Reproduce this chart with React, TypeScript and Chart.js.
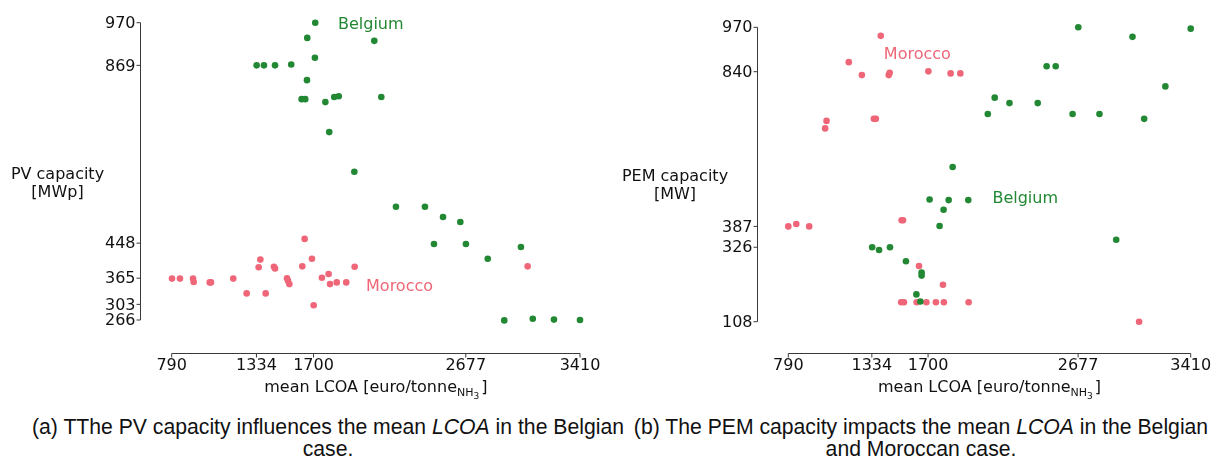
import React, { useEffect, useRef } from "react";
import { Chart, registerables } from "chart.js";

Chart.register(...registerables);

const GREEN = "#228833";
const PINK = "#EE6677";
const FONT = "'DejaVu Sans', sans-serif";

const xTickValues = [790, 1334, 1700, 2677, 3410];
const pvTickValues = [266, 303, 365, 448, 869, 970];
const pemTickValues = [108, 326, 387, 840, 970];

const pvBelgium: [number, number][] = [
  [1711, 970], [1660, 934], [2090, 927], [1709, 887], [1335, 869], [1382, 869], [1453, 869],
  [1557, 871], [1658, 834], [1624, 789], [1647, 789], [1776, 782], [1833, 794], [1862, 796],
  [2135, 794], [1801, 711], [1962, 617], [2229, 534], [2415, 534], [2531, 510], [2642, 498],
  [2473, 446], [2678, 446], [2818, 411], [3031, 439], [2924, 265], [3107, 269], [3243, 267],
  [3410, 266],
];

const pvMorocco: [number, number][] = [
  [792, 364], [843, 364], [927, 364], [931, 356], [1034, 355], [1042, 355], [1185, 364],
  [1271, 329], [1348, 391], [1359, 409], [1393, 329], [1446, 392], [1453, 388], [1530, 365],
  [1536, 359], [1545, 351], [1628, 393], [1643, 458], [1690, 411], [1701, 301], [1754, 366],
  [1797, 375], [1806, 351], [1849, 355], [1910, 355], [1964, 392], [3074, 393],
];

const pemMorocco: [number, number][] = [
  [1392, 945], [1184, 868], [1269, 830], [1444, 830], [1450, 837], [1702, 841], [1847, 835],
  [1910, 835], [1039, 696], [1030, 674], [1347, 702], [1360, 702], [790, 387], [842, 394],
  [926, 387], [1528, 405], [1537, 405], [1641, 271], [1797, 216], [1525, 165], [1543, 165],
  [1626, 165], [1689, 165], [1751, 165], [1803, 165], [1964, 165], [3074, 108],
];

const pemBelgium: [number, number][] = [
  [1860, 561], [1710, 466], [1834, 464], [1962, 464], [1801, 436], [1775, 388], [1336, 326],
  [1381, 318], [1452, 326], [1556, 285], [1658, 252], [1658, 243], [1624, 188], [1650, 167],
  [2089, 716], [2678, 970], [3031, 942], [3410, 966], [2472, 856], [2531, 856], [3245, 797],
  [2134, 764], [2230, 748], [2414, 748], [2641, 716], [2816, 716], [3107, 702], [2925, 348],
];

const pvYLabel = ["PV capacity", "[MWp]"];
const pemYLabel = ["PEM capacity", "[MW]"];
const xLabelMain = "mean LCOA [euro/tonne";

type Note = { text: string; x: number; y: number; color: string };

type Panel = {
  belgium: [number, number][];
  morocco: [number, number][];
  yTicks: number[];
  yLabel: string[];
  padding: { left: number; right: number; top: number; bottom: number };
  ySpineX: number;
  xSpineY: number;
  yLabelX: number;
  yLabelY: number[];
  notes: Note[];
};

const panelA: Panel = {
  belgium: pvBelgium,
  morocco: pvMorocco,
  yTicks: pvTickValues,
  yLabel: pvYLabel,
  padding: { left: 171.7, right: 26, top: 22.7, bottom: 80 },
  ySpineX: 140.3,
  xSpineY: 352.7,
  yLabelX: 57.5,
  yLabelY: [175, 193],
  notes: [
    { text: "Belgium", x: 1857, y: 966, color: GREEN },
    { text: "Morocco", x: 2037, y: 345, color: PINK },
  ],
};

const panelB: Panel = {
  belgium: pemBelgium,
  morocco: pemMorocco,
  yTicks: pemTickValues,
  yLabel: pemYLabel,
  padding: { left: 182.3, right: 21.3, top: 27.3, bottom: 78.3 },
  ySpineX: 150.7,
  xSpineY: 353,
  yLabelX: 69,
  yLabelY: [177, 195],
  notes: [
    { text: "Morocco", x: 1412, y: 889, color: PINK },
    { text: "Belgium", x: 2119, y: 467, color: GREEN },
  ],
};

const axesPlugin = {
  id: "customAxes",
  afterDatasetsDraw(chart: any, _args: any, opts: any) {
    const p: Panel = opts.panel;
    if (!p) return;
    const ctx: CanvasRenderingContext2D = chart.ctx;
    const xs = chart.scales.x;
    const ys = chart.scales.y;
    ctx.save();
    ctx.strokeStyle = "#3a3a3a";
    ctx.lineWidth = 1;
    ctx.fillStyle = "#111";
    ctx.font = `16px ${FONT}`;

    // y spine
    const yTop = ys.getPixelForValue(p.yTicks[p.yTicks.length - 1]);
    const yBot = ys.getPixelForValue(p.yTicks[0]);
    const sx = Math.round(p.ySpineX) + 0.5;
    ctx.beginPath();
    ctx.moveTo(sx, yTop);
    ctx.lineTo(sx, yBot);
    ctx.stroke();
    ctx.textAlign = "right";
    ctx.textBaseline = "middle";
    p.yTicks.forEach((t) => {
      const py = ys.getPixelForValue(t);
      ctx.beginPath();
      ctx.moveTo(sx - 4, py);
      ctx.lineTo(sx, py);
      ctx.stroke();
      ctx.fillText(String(t), sx - 5, py + 1);
    });

    // x spine
    const xL = xs.getPixelForValue(xTickValues[0]);
    const xR = xs.getPixelForValue(xTickValues[xTickValues.length - 1]);
    const sy = Math.round(p.xSpineY) + 0.5;
    ctx.beginPath();
    ctx.moveTo(xL, sy);
    ctx.lineTo(xR, sy);
    ctx.stroke();
    ctx.textAlign = "center";
    ctx.textBaseline = "top";
    xTickValues.forEach((t) => {
      const px = xs.getPixelForValue(t);
      ctx.beginPath();
      ctx.moveTo(px, sy);
      ctx.lineTo(px, sy + 4);
      ctx.stroke();
      ctx.fillText(String(t), px, sy + 4);
    });

    // x label with subscript
    const mainFont = `16px ${FONT}`;
    const subFont = `11px ${FONT}`;
    const sub2Font = `9px ${FONT}`;
    ctx.font = mainFont;
    const w1 = ctx.measureText(xLabelMain).width;
    const w4 = ctx.measureText("]").width;
    ctx.font = subFont;
    const w2 = ctx.measureText("NH").width;
    ctx.font = sub2Font;
    const w3 = ctx.measureText("3").width;
    const total = w1 + w2 + w3 + w4 + 2;
    let cx = (xL + xR) / 2 - total / 2;
    const base = sy + 38;
    ctx.textAlign = "left";
    ctx.textBaseline = "alphabetic";
    ctx.font = mainFont;
    ctx.fillText(xLabelMain, cx, base);
    cx += w1;
    ctx.font = subFont;
    ctx.fillText("NH", cx, base + 4);
    cx += w2;
    ctx.font = sub2Font;
    ctx.fillText("3", cx, base + 7);
    cx += w3 + 2;
    ctx.font = mainFont;
    ctx.fillText("]", cx, base);

    // y label
    ctx.textAlign = "center";
    ctx.textBaseline = "middle";
    p.yLabel.forEach((line, i) => {
      ctx.fillText(line, p.yLabelX, p.yLabelY[i]);
    });

    // annotations
    ctx.textAlign = "left";
    p.notes.forEach((n) => {
      ctx.fillStyle = n.color;
      ctx.fillText(n.text, xs.getPixelForValue(n.x), ys.getPixelForValue(n.y));
    });
    ctx.restore();
  },
};

function ScatterPanel({ panel }: { panel: Panel }) {
  const ref = useRef<HTMLCanvasElement | null>(null);
  useEffect(() => {
    if (!ref.current) return;
    const yMin = panel.yTicks[0];
    const yMax = panel.yTicks[panel.yTicks.length - 1];
    const chart = new Chart(ref.current, {
      type: "scatter",
      data: {
        datasets: [
          {
            label: "Belgium",
            data: panel.belgium.map(([x, y]) => ({ x, y })),
            backgroundColor: GREEN,
            borderColor: GREEN,
            borderWidth: 0,
            pointRadius: 3.3,
            clip: false as any,
          },
          {
            label: "Morocco",
            data: panel.morocco.map(([x, y]) => ({ x, y })),
            backgroundColor: PINK,
            borderColor: PINK,
            borderWidth: 0,
            pointRadius: 3.3,
            clip: false as any,
          },
        ],
      },
      options: {
        animation: false,
        responsive: false,
        maintainAspectRatio: false,
        devicePixelRatio: 1,
        layout: { padding: panel.padding },
        plugins: {
          legend: { display: false },
          tooltip: { enabled: false },
          customAxes: { panel } as any,
        } as any,
        scales: {
          x: { type: "linear", min: xTickValues[0], max: xTickValues[xTickValues.length - 1], display: false },
          y: { type: "linear", min: yMin, max: yMax, display: false },
        },
      },
      plugins: [axesPlugin],
    });
    return () => chart.destroy();
  }, [panel]);
  return <canvas ref={ref} width={606} height={400} style={{ display: "block", width: 606, height: 400 }} />;
}

const captionStyle: React.CSSProperties = {
  position: "absolute",
  top: 416,
  fontFamily: "'Liberation Sans', Arial, sans-serif",
  fontSize: 21.2,
  lineHeight: "22px",
  color: "#111",
  textAlign: "center",
  whiteSpace: "nowrap",
};

export default function App() {
  return (
    <div style={{ position: "absolute", left: 0, top: 0, width: 1213, height: 461, background: "#fff", overflow: "hidden" }}>
      <div style={{ position: "absolute", left: 0, top: 0 }}>
        <ScatterPanel panel={panelA} />
      </div>
      <div style={{ position: "absolute", left: 606, top: 0 }}>
        <ScatterPanel panel={panelB} />
      </div>
      <div style={{ ...captionStyle, left: 328, transform: "translateX(-50%)" }}>
        (a) TThe PV capacity influences the mean <i>LCOA</i> in the Belgian
        <br />
        case.
      </div>
      <div style={{ ...captionStyle, left: 921, transform: "translateX(-50%)" }}>
        (b) The PEM capacity impacts the mean <i>LCOA</i> in the Belgian
        <br />
        and Moroccan case.
      </div>
    </div>
  );
}
